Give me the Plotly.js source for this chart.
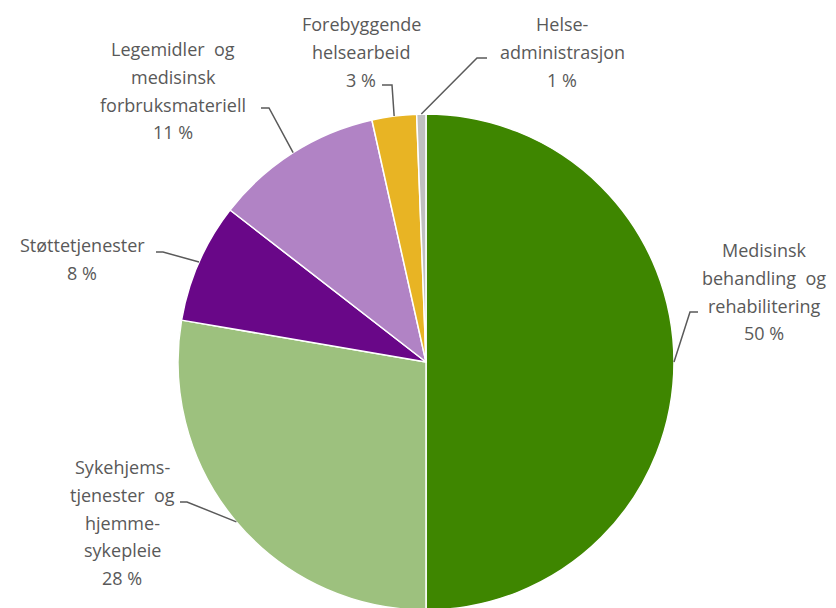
<!DOCTYPE html>
<html>
<head>
<meta charset="utf-8">
<script src="https://cdn.plot.ly/plotly-3.0.1.min.js"></script>
<style>
html,body{margin:0;padding:0;background:#fff;overflow:hidden;}
#chart{width:836px;height:612px;}
</style>
</head>
<body>
<div id="chart"></div>
<script>
// ---- data ----
const categories = [
  "Medisinsk behandling og rehabilitering",
  "Sykehjemstjenester og hjemmesykepleie",
  "Støttetjenester",
  "Legemidler og medisinsk forbruksmateriell",
  "Forebyggende helsearbeid",
  "Helseadministrasjon"
];
const values = [50, 27.7, 7.8, 11.0, 2.9, 0.6];
const percentLabels = ["50 %", "28 %", "8 %", "11 %", "3 %", "1 %"];
const labelLines = [
  ["Medisinsk", "behandling  og", "rehabilitering"],
  ["Sykehjems-", "tjenester  og", "hjemme-", "sykepleie"],
  ["Støttetjenester"],
  ["Legemidler  og", "medisinsk", "forbruksmateriell"],
  ["Forebyggende", "helsearbeid"],
  ["Helse-", "administrasjon"]
];
const colors = ["#3e8600", "#9dc17e", "#690788", "#b183c5", "#e8b424", "#c0c0c0"];

// ---- layout constants (pixels) ----
const W = 836, H = 612;
const cx = 426, cy = 362, R = 248;
// label block: center x, first line center y
const labelPos = [
  [764, 250], [122, 467], [82, 245], [173, 49], [361, 24], [562, 24]
];
const lineGap = 27.8;
// leader elbows: [elbow x, elbow y, end x]
const elbows = [
  [690, 312, 698], [187, 502, 180], [163, 252, 156],
  [269, 108, 261], [392, 85, 382], [477, 58, 487]
];

const px = x => x / W;
const py = y => 1 - y / H;

const total = values.reduce((a, b) => a + b, 0);
let cum = 0;
const annotations = [];
const shapes = [];
values.forEach((v, i) => {
  const mid = (cum + v / 2) / total * 2 * Math.PI;
  cum += v;
  const ax = cx + R * Math.sin(mid);
  const ay = cy - R * Math.cos(mid);
  const [ex, ey, hx] = elbows[i];
  shapes.push({
    type: "path", xref: "paper", yref: "paper",
    path: `M ${px(ax)} ${py(ay)} L ${px(ex)} ${py(ey)} L ${px(hx)} ${py(ey)}`,
    line: {color: "#5a5a5a", width: 1.5}
  });
  const lines = labelLines[i].concat([percentLabels[i]]);
  lines.forEach((t, k) => {
    annotations.push({
      xref: "paper", yref: "paper",
      x: px(labelPos[i][0]), y: py(labelPos[i][1] + k * lineGap),
      xanchor: "center", yanchor: "middle",
      text: t, showarrow: false,
      font: {family: "Open Sans", size: 18, color: "#595959"}
    });
  });
});

const trace = {
  type: "pie",
  labels: categories,
  values: values,
  sort: false,
  direction: "clockwise",
  rotation: 0,
  textinfo: "none",
  hoverinfo: "label+percent",
  marker: {colors: colors, line: {color: "#ffffff", width: 1.5}},
  domain: {x: [px(cx - R), px(cx + R)], y: [py(cy + R), py(cy - R)]},
  showlegend: false
};

Plotly.newPlot("chart", [trace], {
  width: W, height: H,
  margin: {l: 0, r: 0, t: 0, b: 0},
  paper_bgcolor: "#ffffff",
  showlegend: false,
  annotations: annotations,
  shapes: shapes
}, {displayModeBar: false, staticPlot: true});
</script>
</body>
</html>
